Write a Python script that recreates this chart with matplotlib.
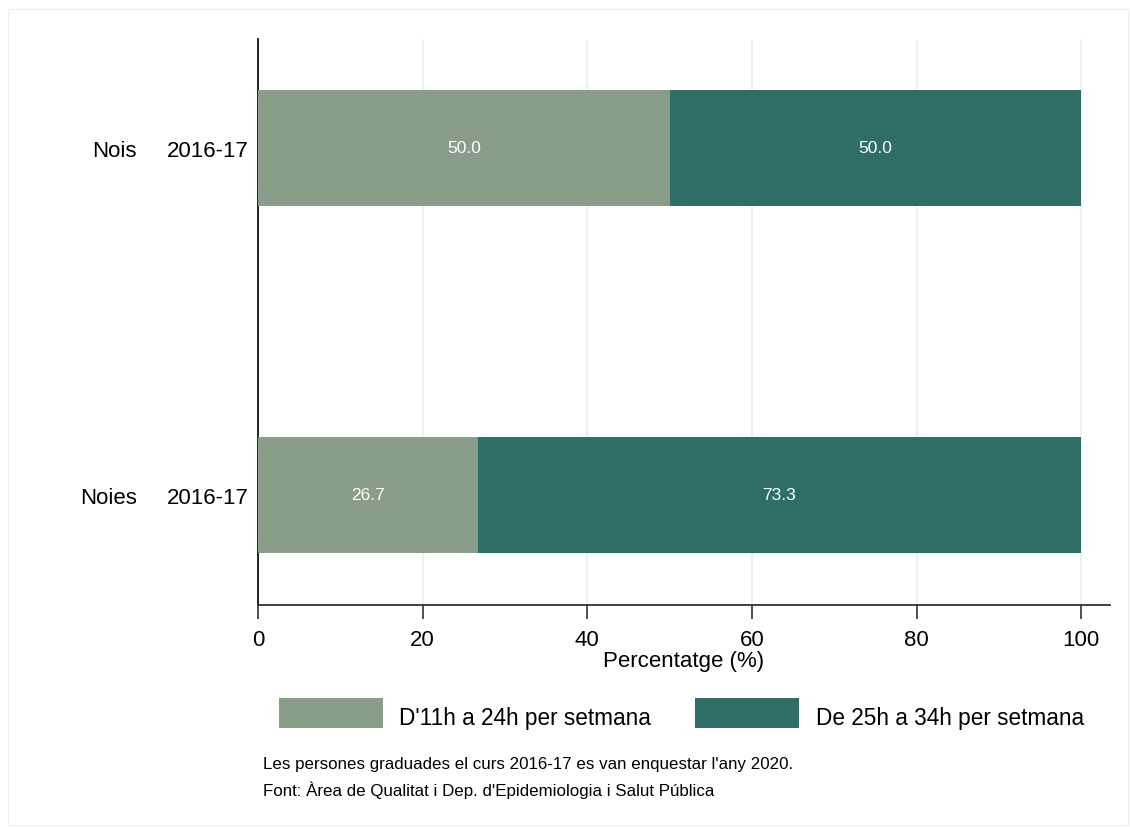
import matplotlib
matplotlib.use("Agg")
import matplotlib.pyplot as plt
from matplotlib.patches import Rectangle
from matplotlib.transforms import blended_transform_factory

plt.rcParams['font.family'] = ['Liberation Sans', 'DejaVu Sans']

groups = ["Nois", "Noies"]
years = ["2016-17", "2016-17"]
series_names = ["D'11h a 24h per setmana", "De 25h a 34h per setmana"]
low_vals = [50.0, 26.7]
high_vals = [50.0, 73.3]
colors = ["#8A9D89", "#2E6E66"]
xticks = [0, 20, 40, 60, 80, 100]
notes = ["Les persones graduades el curs 2016-17 es van enquestar l'any 2020.",
         "Font: Àrea de Qualitat i Dep. d'Epidemiologia i Salut Pública"]

W, H = 1130, 828
fig = plt.figure(figsize=(W / 100, H / 100), dpi=100)
fig.patches.append(Rectangle((8 / W, 1 - 826 / H), 1120 / W, 816 / H, transform=fig.transFigure,
                             fill=False, edgecolor="#EEF0EF", linewidth=1.0))

ax = fig.add_axes([258 / W, 1 - 606 / H, (1110 - 258) / W, (606 - 40) / H])
ypos = [1, 0]
h = 0.334
ax.barh(ypos, low_vals, height=h, color=colors[0], zorder=3)
ax.barh(ypos, high_vals, left=low_vals, height=h, color=colors[1], zorder=3)
for y, a, b in zip(ypos, low_vals, high_vals):
    ax.text(a / 2, y, f"{a:.1f}", color="white", ha="center", va="center", fontsize=12.5, zorder=4)
    ax.text(a + b / 2, y, f"{b:.1f}", color="white", ha="center", va="center", fontsize=12.5, zorder=4)

ax.set_xlim(0, 103.5)
ax.set_ylim(-0.317, 1.314)
ax.set_xticks(xticks)
ax.set_xticklabels([str(t) for t in xticks], fontsize=16)
ax.tick_params(axis="x", length=10, width=1.2, color="#333333", pad=7)
ax.set_yticks(ypos)
ax.set_yticklabels(years, fontsize=16)
ax.tick_params(axis="y", length=0, pad=7)
trans = blended_transform_factory(fig.transFigure, ax.transData)
for y, g in zip(ypos, groups):
    ax.text(137 / W, y, g, transform=trans, ha="right", va="center_baseline", fontsize=16)
ax.grid(axis="x", color="#EAF2F3", linewidth=1.6, zorder=0)
ax.grid(axis="y", visible=False)
for s in ["top", "right"]:
    ax.spines[s].set_visible(False)
ax.spines["left"].set_color("#111111")
ax.spines["bottom"].set_color("#333333")
ax.spines["left"].set_linewidth(1.3)
ax.spines["bottom"].set_linewidth(1.3)
ax.set_xlabel("Percentatge (%)", fontsize=16, labelpad=0)

# legend (manual layout)
leg_patch_x = [279, 695]
leg_text_x = [399, 816]
for c, name, px, tx in zip(colors, series_names, leg_patch_x, leg_text_x):
    fig.patches.append(Rectangle((px / W, 1 - 729 / H), 104 / W, 30 / H, transform=fig.transFigure,
                                 facecolor=c, edgecolor="none"))
    fig.text(tx / W, 1 - 716 / H, name, fontsize=16.3, ha="left", va="center_baseline")

fig.text(263 / W, 1 - 765 / H, notes[0], fontsize=12.2, va="center", ha="left")
fig.text(263 / W, 1 - 790 / H, notes[1], fontsize=12.2, va="center", ha="left")

fig.savefig("out.png", dpi=100)
